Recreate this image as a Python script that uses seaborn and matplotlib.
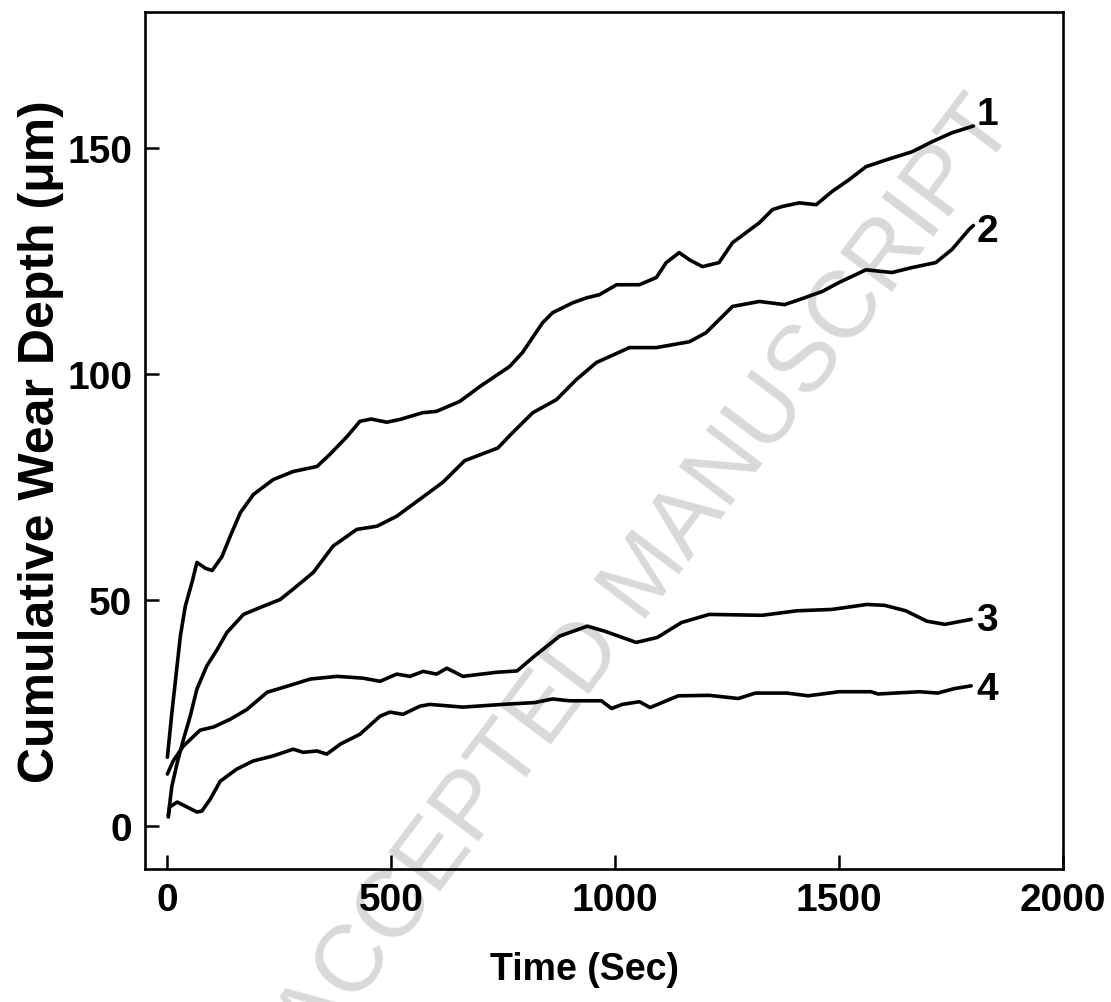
import pandas as pd
import matplotlib
matplotlib.use("Agg")
import matplotlib.pyplot as plt
import seaborn as sns

# curve 1
t1 = [0, 10, 29, 40, 55, 66, 85, 100, 122, 140, 163, 192, 236, 281, 334, 363, 400, 430,
      455, 490, 519, 570, 601, 653, 698, 764, 793, 838, 860, 905, 936, 965, 1003, 1054,
      1092, 1114, 1143, 1166, 1195, 1232, 1262, 1292, 1322, 1351, 1373, 1411, 1449, 1484,
      1522, 1560, 1605, 1663, 1707, 1752, 1800]
d1 = [15.2, 25, 42, 48.6, 53.9, 58.3, 57, 56.5, 59.6, 64, 69.3, 73.3, 76.6, 78.4, 79.5, 82.2,
      86, 89.5, 90, 89.3, 89.9, 91.4, 91.7, 93.9, 97.2, 101.6, 104.7, 111.3, 113.5, 115.7,
      116.8, 117.5, 119.7, 119.7, 121.3, 124.6, 126.8, 125.2, 123.7, 124.6, 129, 131.2,
      133.4, 136.3, 137, 137.8, 137.4, 140.3, 142.9, 145.8, 147.3, 149.1, 151.3, 153.3, 154.8]

# curve 2
t2 = [2, 10, 22, 36, 51, 66, 88, 111, 133, 170, 214, 252, 281, 326, 370, 423, 468, 512, 567,
      615, 664, 738, 771, 816, 869, 913, 958, 1032, 1092, 1166, 1203, 1262, 1322, 1378, 1411,
      1462, 1500, 1560, 1618, 1663, 1716, 1752, 1790, 1800]
d2 = [2.3, 8.8, 14, 19.2, 24.3, 30.3, 35.4, 39, 42.8, 46.8, 48.6, 50.1, 52.4, 56.1, 61.9, 65.6,
      66.3, 68.5, 72.5, 76, 80.8, 83.6, 87, 91.4, 94.3, 98.7, 102.5, 105.8, 105.8, 107.1, 109.1,
      114.9, 116, 115.3, 116.4, 118.2, 120.2, 123, 122.4, 123.5, 124.6, 127.5, 131.9, 132.8]

# curve 3
t3 = [0, 13, 36, 73, 103, 140, 178, 223, 267, 319, 379, 437, 475, 512, 542, 571, 601, 624, 660,
      735, 781, 820, 876, 938, 976, 1047, 1094, 1148, 1210, 1328, 1406, 1484, 1562, 1602, 1649,
      1696, 1736, 1795]
d3 = [11.5, 14.4, 17.7, 21.2, 21.9, 23.6, 25.8, 29.6, 30.9, 32.5, 33.1, 32.7, 32, 33.6, 33.1,
      34.2, 33.6, 34.9, 33.1, 34, 34.3, 37.6, 42, 44.2, 43.1, 40.6, 41.7, 45, 46.8, 46.6, 47.6,
      47.9, 49, 48.8, 47.6, 45.3, 44.6, 45.7]

# curve 4
t4 = [2, 5, 22, 44, 66, 77, 96, 118, 155, 192, 236, 281, 303, 334, 356, 386, 430, 475, 497, 526,
      564, 586, 660, 749, 820, 860, 898, 969, 992, 1016, 1054, 1078, 1141, 1210, 1275, 1313,
      1384, 1431, 1500, 1571, 1587, 1680, 1720, 1758, 1795]
d4 = [2, 4.2, 5.3, 4.2, 3.1, 3.3, 6, 9.9, 12.6, 14.4, 15.5, 17, 16.3, 16.6, 15.9, 18.1, 20.3,
      24.3, 25.2, 24.7, 26.5, 26.9, 26.3, 26.9, 27.3, 28.1, 27.7, 27.7, 26, 26.9, 27.5, 26.2,
      28.8, 28.9, 28.2, 29.4, 29.4, 28.8, 29.7, 29.7, 29.2, 29.7, 29.4, 30.4, 31]

curve_names = ["1", "2", "3", "4"]
label_y = [157.5, 131.5, 45.5, 30.3]

df = pd.concat([
    pd.DataFrame({"time": t, "depth": d, "curve": n})
    for t, d, n in zip([t1, t2, t3, t4], [d1, d2, d3, d4], curve_names)
])

sns.set_theme(style="ticks")
plt.rcParams["font.family"] = ["Liberation Sans", "DejaVu Sans"]
plt.rcParams["font.weight"] = "bold"
for key in ["text.color", "axes.labelcolor", "xtick.color", "ytick.color", "axes.edgecolor"]:
    plt.rcParams[key] = "black"

fig = plt.figure(figsize=(11.11, 10.03), dpi=100)
ax = fig.add_axes([0.1305, 0.1326, 0.8263, 0.8544])

sns.lineplot(data=df, x="time", y="depth", hue="curve", palette=["black"] * 4,
             estimator=None, linewidth=2.6, legend=False, ax=ax)

for name, y in zip(curve_names, label_y):
    ax.text(1806, y, name, fontsize=28, fontweight="bold", ha="left", va="center")

# watermark
ax.text(0.583, 0.425, "ACCEPTED MANUSCRIPT", transform=fig.transFigure,
        fontsize=68, fontweight="normal", color="#d9d9d9", rotation=53,
        ha="center", va="center", rotation_mode="anchor", zorder=0.5, clip_on=False)

ax.set_xlim(-50, 2000)
ax.set_ylim(-9.5, 180)
ax.set_xticks([0, 500, 1000, 1500, 2000])
ax.set_yticks([0, 50, 100, 150])
ax.tick_params(direction="in", length=10, width=1.8, labelsize=28, pad=9,
               top=False, right=False)
for lbl in ax.get_xticklabels() + ax.get_yticklabels():
    lbl.set_fontweight("bold")
for s in ax.spines.values():
    s.set_linewidth(1.9)

ax.set_xlabel("Time (Sec)", fontsize=27, fontweight="bold")
ax.set_ylabel("Cumulative Wear Depth (\u03bcm)", fontsize=36, fontweight="bold")
ax.xaxis.set_label_coords(0.479, -0.096)
ax.yaxis.set_label_coords(-0.088, 0.5)

fig.savefig("out.png", dpi=100, facecolor="white")
